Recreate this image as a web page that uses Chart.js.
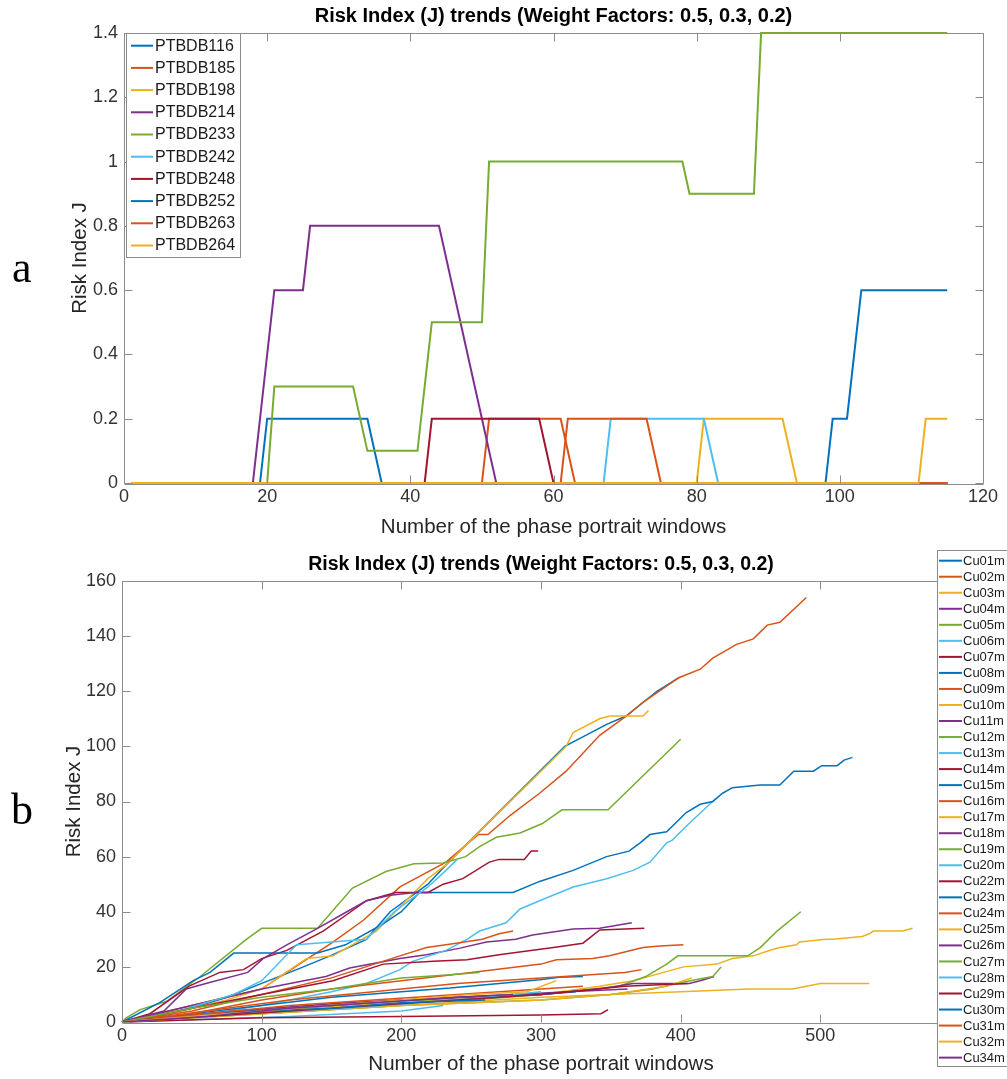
<!DOCTYPE html>
<html>
<head>
<meta charset="utf-8">
<script src="https://cdn.jsdelivr.net/npm/chart.js@4.4.1/dist/chart.umd.min.js"></script>
<style>
  body { margin: 0; background: #fff; }
  #page { position: relative; width: 1007px; height: 1079px; overflow: hidden; }
  .panel { position: absolute; left: 0; }
  .tag { position: absolute; font-family: 'Liberation Serif', 'Times New Roman', serif; font-size: 44px; line-height: 44px; color: #000; }
</style>
</head>
<body>
<div id="page">
  <div class="panel" style="top:0"><canvas id="chartA" width="1007" height="540"></canvas></div>
  <div class="panel" style="top:540px"><canvas id="chartB" width="1007" height="539"></canvas></div>
  <div class="tag" style="left:12px;top:246px">a</div>
  <div class="tag" style="left:11px;top:788px">b</div>
</div>
<script>
// couleurs par défaut de MATLAB (ordre des courbes)
const matlabColors = ['#0072BD', '#D95319', '#EDB120', '#7E2F8E', '#77AC30', '#4DBEEE', '#A2142F'];
const fontFamily = "'Liberation Sans', Arial, Helvetica, sans-serif";
const chartTitle = 'Risk Index (J) trends (Weight Factors: 0.5, 0.3, 0.2)';
const xTitle = 'Number of the phase portrait windows';
const yTitle = 'Risk Index J';

// ---- figure a : points [fenêtre, J] ----
const topNames = ['PTBDB116', 'PTBDB185', 'PTBDB198', 'PTBDB214', 'PTBDB233',
                  'PTBDB242', 'PTBDB248', 'PTBDB252', 'PTBDB263', 'PTBDB264'];
const topTicksX = [0, 20, 40, 60, 80, 100, 120];
const topTicksY = [0, 0.2, 0.4, 0.6, 0.8, 1, 1.2, 1.4];

const pt116 = [[1,0],[19,0],[20,0.2],[34,0.2],[36,0],[115,0]];
const pt185 = [[1,0],[50,0],[51,0.2],[61,0.2],[63,0],[115,0]];
const pt198 = [[1,0],[80,0],[81,0.2],[92,0.2],[94,0],[115,0]];
const pt214 = [[1,0],[18,0],[21,0.6],[25,0.6],[26,0.8],[44,0.8],[52,0],[115,0]];
const pt233 = [[1,0],[20,0],[21,0.3],[32,0.3],[34,0.1],[41,0.1],[43,0.5],[50,0.5],[51,1],[78,1],[79,0.9],[88,0.9],[89,1.4],[115,1.4]];
const pt242 = [[1,0],[67,0],[68,0.2],[81,0.2],[83,0],[115,0]];
const pt248 = [[1,0],[42,0],[43,0.2],[58,0.2],[60,0],[115,0]];
const pt252 = [[1,0],[98,0],[99,0.2],[101,0.2],[103,0.6],[115,0.6]];
const pt263 = [[1,0],[61,0],[62,0.2],[73,0.2],[75,0],[115,0]];
const pt264 = [[1,0],[111,0],[112,0.2],[115,0.2]];
const topSeries = [pt116, pt185, pt198, pt214, pt233, pt242, pt248, pt252, pt263, pt264];

// ---- figure b ----
const bottomNames = ['Cu01m','Cu02m','Cu03m','Cu04m','Cu05m','Cu06m','Cu07m','Cu08m','Cu09m','Cu10m',
                     'Cu11m','Cu12m','Cu13m','Cu14m','Cu15m','Cu16m','Cu17m','Cu18m','Cu19m','Cu20m',
                     'Cu22m','Cu23m','Cu24m','Cu25m','Cu26m','Cu27m','Cu28m','Cu29m','Cu30m','Cu31m',
                     'Cu32m','Cu34m'];
const bottomTicksX = [0, 100, 200, 300, 400, 500, 600];
const bottomTicksY = [0, 20, 40, 60, 80, 100, 120, 140, 160];

const cu01 = [[0,0],[25,2],[50,5],[75,9],[100,14],[125,19],[149,24],[175,30],[192,40],[219,50],[232,57],[317,100],[332,104],[347,108],[361,111],[383,120],[399,125]];
const cu02 = [[0,0],[25,3],[50,6],[75,9],[100,12],[118,18],[151,29],[173,37],[199,49],[232,58],[255,68],[262,68],[278,75],[299,83],[318,91],[342,104],[361,111],[373,116],[399,125],[414,128],[423,132],[440,137],[452,139],[462,144],[471,145],[490,154]];
const cu03 = [[0,0],[25,2],[50,5],[75,8],[100,12],[132,23],[151,24],[182,33],[219,52],[232,57],[318,100],[323,105],[342,110],[349,111],[373,111],[377,113]];
const cu04 = [[0,0],[25,3],[50,6],[75,9],[100,12],[146,16.5],[163,19.6],[199,23],[218,24.4],[242,26.8],[261,29],[282,30],[294,31.6],[323,33.7],[342,34],[365,36]];
const cu05 = [[0,0],[3,1.5],[13,4.5],[32,7.5],[56,16.5],[89,30],[100,34],[140,34],[165,48.6],[189,54.6],[209,57.4],[230,57.7],[246,60],[256,63.6],[268,67],[285,68.6],[301,72],[315,77],[348,77],[400,102.6]];
const cu06 = [[0,0],[50,2],[100,6],[150,11],[175,14],[199,19],[208,22],[232,26],[247,30],[256,33],[275,36],[285,41],[299,44],[323,49],[347,52],[366,55],[378,58],[390,65],[394,66],[406,72],[425,81]];
const cu07 = [[0,0],[20,3],[48,13],[70,18],[87,19],[100,23],[118,26],[144,33],[161,39],[175,44],[196,47],[219,47],[230,50],[244,52],[263,58],[270,59],[288,59],[293,62],[298,62]];
const cu08 = [[0,0],[27,7],[51,15],[63,18],[80,25],[140,25],[160,28],[185,35],[200,40],[213,47],[280,47],[299,51],[323,55],[347,60],[363,62],[371,65],[378,68],[390,69],[404,76],[414,79],[423,80],[430,83],[437,85],[457,86],[471,86],[481,91],[495,91],[501,93],[512,93],[517,95],[523,96]];
const cu09 = [[0,0],[50,4],[100,10],[150,16],[199,24],[218,27],[232,28],[258,30],[270,32],[280,33]];
const cu10 = [[0,0],[100,4],[200,7],[300,10],[342,13],[366,15],[402,20],[426,21],[437,23],[452,24],[464,26],[471,27],[483,28],[485,29],[504,30],[509,30],[530,31],[535,32],[538,33],[559,33],[566,34]];
const cu11 = [[0,0],[30,4],[46,12],[60,14],[90,18],[101,23],[118,28],[140,34],[161,40],[175,44],[192,46],[210,47],[222,47]];
const cu12 = [[0,0],[50,2],[100,4],[150,6],[200,8],[250,8],[300,10],[356,13],[375,16.5],[380,18],[390,21],[398,24],[448,24],[457,27],[469,33],[486,40]];
const cu13 = [[0,0],[40,4],[80,10],[100,15],[125,28],[150,29],[175,30],[195,40],[219,49],[232,55],[240,59]];
const cu14 = [[0,0],[50,5],[100,10],[151,15],[187,21],[223,22],[247,22.6],[270,24.4],[294,26],[309,27],[330,28.6],[336,31],[342,33.4],[374,34]];
const cu15 = [[0,0],[50,3],[100,6],[150,9],[200,11],[235,12.3],[270,14],[299,15.3],[313,16.2],[330,16.5]];
const cu16 = [[0,0],[50,3],[100,8],[150,12],[200,15],[250,18],[300,21],[311,22.6],[337,23],[349,24],[373,27],[385,27.6],[402,28]];
const cu17 = [[0,0],[100,3],[200,6],[300,9],[400,11],[449,12],[480,12],[490,13],[500,14],[535,14]];
const cu18 = [[0,0],[50,2],[100,4],[150,6],[200,8],[250,9],[300,10],[342,12],[366,14],[406,14],[414,15],[424,16.5]];
const cu19 = [[0,0],[100,3],[200,6],[250,7],[300,8],[350,10],[380,12],[404,14.7],[423,16.5],[429,20]];
const cu20 = [[0,0],[60,1],[120,2],[200,4],[230,6]];
const cu22 = [[0,0],[100,1.5],[200,2],[300,2.5],[343,3],[348,4.5]];
const cu23 = [[0,0],[60,3],[120,5],[180,7],[240,9],[300,10],[325,11]];
const cu24 = [[0,0],[60,4],[120,8],[180,11],[240,14],[300,16],[360,18],[372,19]];
const cu25 = [[0,0],[100,3],[200,6],[300,8],[350,10],[390,13],[408,16]];
const cu26 = [[0,0],[80,4],[160,7],[240,9],[320,11],[362,12]];
const cu27 = [[0,0],[50,5],[100,9],[150,12],[200,16],[230,17],[256,18]];
const cu28 = [[0,0],[80,3],[160,5],[240,8],[300,11]];
const cu29 = [[0,0],[60,2],[120,4],[180,6],[240,8],[300,10],[360,13],[405,14]];
const cu30 = [[0,0],[50,2],[100,4],[150,5],[200,7],[260,8]];
const cu31 = [[0,0],[60,3],[120,6],[180,8],[240,10],[300,12],[330,13]];
const cu32 = [[0,0],[100,4],[200,8],[250,10],[290,11],[311,15]];
const cu34 = [[0,0],[60,2],[120,5],[180,7],[240,9],[280,10]];
const bottomSeries = [cu01,cu02,cu03,cu04,cu05,cu06,cu07,cu08,cu09,cu10,cu11,cu12,cu13,cu14,cu15,cu16,
                      cu17,cu18,cu19,cu20,cu22,cu23,cu24,cu25,cu26,cu27,cu28,cu29,cu30,cu31,cu32,cu34];

function makeDatasets(names, series, width) {
    return series.map((pts, i) => ({
        label: names[i],
        data: pts.map(p => ({x: p[0], y: p[1]})),
        borderColor: matlabColors[i % 7],
        borderWidth: width,
        showLine: true,
        pointRadius: 0,
        tension: 0,
        clip: 4,                    // la ligne à 1.4 et à 0 reste visible sur le cadre
        order: series.length - i   // la dernière courbe au-dessus, comme MATLAB
    }));
}

// cadre, petits traits vers l'intérieur et légende
function matlabPlugin(leg) {
    return {
        id: 'matlabBox',
        afterDatasetsDraw(chart) {
            const {ctx, chartArea: a, scales} = chart;
            ctx.save();
            ctx.strokeStyle = '#8c8c8c';
            ctx.lineWidth = 1;
            const L = Math.round(a.left) + 0.5, R = Math.round(a.right) + 0.5;
            const T = Math.round(a.top) + 0.5, B = Math.round(a.bottom) + 0.5;
            ctx.beginPath();
            ctx.moveTo(L, B); ctx.lineTo(L, T); ctx.lineTo(R, T); ctx.lineTo(R, B);
            scales.x.ticks.forEach(t => {
                const px = Math.round(scales.x.getPixelForValue(t.value)) + 0.5;
                ctx.moveTo(px, B); ctx.lineTo(px, B - 8);
                ctx.moveTo(px, T); ctx.lineTo(px, T + 8);
            });
            scales.y.ticks.forEach(t => {
                const py = Math.round(scales.y.getPixelForValue(t.value)) + 0.5;
                ctx.moveTo(L, py); ctx.lineTo(L + 8, py);
                ctx.moveTo(R, py); ctx.lineTo(R - 8, py);
            });
            ctx.stroke();
            // axe du bas sous les courbes à zéro : redessiné léger
            ctx.beginPath();
            ctx.moveTo(L, B + 1); ctx.lineTo(R, B + 1);
            ctx.stroke();

            // légende
            ctx.fillStyle = '#fff';
            ctx.fillRect(leg.x, leg.y, leg.w, leg.h);
            ctx.strokeStyle = '#8c8c8c';
            ctx.strokeRect(leg.x + 0.5, leg.y + 0.5, leg.w, leg.h);
            ctx.font = leg.size + 'px ' + fontFamily;
            ctx.textBaseline = 'middle';
            ctx.textAlign = 'left';
            chart.data.datasets.forEach((ds, i) => {
                const y = leg.first + i * leg.step;
                ctx.strokeStyle = ds.borderColor;
                ctx.lineWidth = 2;
                ctx.beginPath();
                ctx.moveTo(leg.x + leg.lineStart, y);
                ctx.lineTo(leg.x + leg.lineEnd, y);
                ctx.stroke();
                ctx.fillStyle = '#1a1a1a';
                ctx.fillText(ds.label, leg.x + leg.textX, y + 0.5);
            });
            ctx.restore();
        }
    };
}

function makeOptions(o) {
    return {
        responsive: false,
        animation: false,
        layout: { padding: { left: 0, right: o.padRight, top: 0, bottom: 0 } },
        plugins: {
            legend: { display: false },
            tooltip: { enabled: false },
            title: {
                display: true,
                text: chartTitle,
                fullSize: false,
                color: '#000',
                font: { family: fontFamily, size: o.titleSize, weight: 'bold' },
                padding: { top: o.titlePadTop, bottom: o.titlePadBottom }
            }
        },
        scales: {
            x: {
                type: 'linear',
                min: o.xTicks[0],
                max: o.xTicks[o.xTicks.length - 1],
                afterBuildTicks: s => { s.ticks = o.xTicks.map(v => ({value: v})); },
                afterFit: s => { s.height = o.xHeight; },
                grid: { display: false, drawTicks: false },
                border: { display: false },
                ticks: { padding: 3, color: '#333', font: { family: fontFamily, size: 18 },
                         maxRotation: 0, autoSkip: false },
                title: { display: true, text: xTitle, color: '#262626',
                         font: { family: fontFamily, size: 20.5 }, padding: { top: 0, bottom: o.xTitlePad } }
            },
            y: {
                type: 'linear',
                min: o.yTicks[0],
                max: o.yTicks[o.yTicks.length - 1],
                afterBuildTicks: s => { s.ticks = o.yTicks.map(v => ({value: v})); },
                afterFit: s => { s.width = o.yWidth; },
                grid: { display: false, drawTicks: false },
                border: { display: false },
                ticks: { padding: 6, color: '#333', font: { family: fontFamily, size: 18 },
                         autoSkip: false, callback: v => String(+v.toFixed(1)) },
                title: { display: true, text: yTitle, color: '#262626',
                         font: { family: fontFamily, size: 20.5 }, padding: { top: o.yTitlePad, bottom: 0 } }
            }
        }
    };
}

new Chart(document.getElementById('chartA'), {
    type: 'scatter',
    data: { datasets: makeDatasets(topNames, topSeries, 2) },
    options: makeOptions({
        padRight: 24, titleSize: 20, titlePadTop: 4, titlePadBottom: 5,
        xTicks: topTicksX, yTicks: topTicksY, xHeight: 57, yWidth: 124,
        xTitlePad: 0, yTitlePad: 68
    }),
    plugins: [matlabPlugin({ x: 126, y: 33, w: 114, h: 224, first: 45.7, step: 22.2,
                             size: 16, lineStart: 5, lineEnd: 27, textX: 29 })]
});

new Chart(document.getElementById('chartB'), {
    type: 'scatter',
    data: { datasets: makeDatasets(bottomNames, bottomSeries, 1.5) },
    options: makeOptions({
        padRight: 47, titleSize: 19.5, titlePadTop: 13, titlePadBottom: 4.6,
        xTicks: bottomTicksX, yTicks: bottomTicksY, xHeight: 57, yWidth: 122,
        xTitlePad: 2, yTitlePad: 62
    }),
    plugins: [matlabPlugin({ x: 937, y: 10, w: 80, h: 516, first: 20.7, step: 16.03,
                             size: 13, lineStart: 2, lineEnd: 25, textX: 26 })]
});
</script>
</body>
</html>
